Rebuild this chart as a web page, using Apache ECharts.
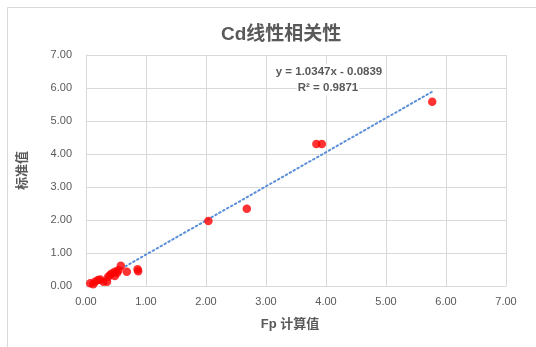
<!DOCTYPE html>
<html>
<head>
<meta charset="utf-8">
<script src="https://cdn.jsdelivr.net/npm/echarts@6/dist/echarts.min.js"></script>
<style>html,body{margin:0;padding:0;background:#fff;}#c{width:536px;height:347px;}</style>
</head>
<body>
<div id="c"></div>
<script>
// Data
const fpValues = [0.07, 0.12, 0.15, 0.20, 0.24, 0.29, 0.35, 0.37, 0.40, 0.43, 0.48, 0.48, 0.52, 0.54, 0.58, 0.68, 0.86, 0.87, 2.04, 2.68, 3.84, 3.93, 5.77];
const stdValues = [0.08, 0.05, 0.13, 0.18, 0.20, 0.13, 0.13, 0.28, 0.33, 0.38, 0.43, 0.30, 0.40, 0.48, 0.61, 0.43, 0.51, 0.45, 1.97, 2.34, 4.30, 4.30, 5.58];
const tickValues = [0, 1, 2, 3, 4, 5, 6, 7];
const slope = 1.0347, intercept = -0.0839;
const eqText = 'y = 1.0347x - 0.0839';
const r2Text = 'R² = 0.9871';

const points = fpValues.map((x, i) => [x, stdValues[i]]);
const xMin = Math.min(...fpValues), xMax = Math.max(...fpValues);
const trend = [[xMin, slope * xMin + intercept], [xMax, slope * xMax + intercept]];

const chart = echarts.init(document.getElementById('c'));
const txt = '#595959';
const font = '"Liberation Sans","Noto Sans CJK SC",sans-serif';
const axisCommon = {
  min: tickValues[0], max: tickValues[tickValues.length - 1], interval: 1,
  axisLine: { show: true, lineStyle: { color: '#d9d9d9' } },
  axisTick: { show: false },
  splitLine: { show: true, lineStyle: { color: '#d9d9d9', width: 1 } },
  axisLabel: { color: txt, fontSize: 11, fontFamily: font, formatter: v => v.toFixed(2) },
};
chart.setOption({
  backgroundColor: '#fff',
  animation: false,
  title: {
    text: 'Cd线性相关性', left: 216, top: 20,
    textStyle: { color: txt, fontSize: 19, fontWeight: 'bold', fontFamily: font }
  },
  grid: { left: 86, right: 30, top: 55, bottom: 61 },
  xAxis: Object.assign({}, axisCommon, {
    type: 'value',
    name: 'Fp 计算值', nameLocation: 'middle', nameGap: 32,
    nameTextStyle: { color: txt, fontSize: 13, fontWeight: 'bold', fontFamily: font, padding: [0, 12, 0, 0] },
    axisLabel: Object.assign({}, axisCommon.axisLabel, { margin: 10 })
  }),
  yAxis: Object.assign({}, axisCommon, {
    type: 'value',
    name: '标准值', nameLocation: 'middle', nameGap: 57,
    nameTextStyle: { color: txt, fontSize: 13, fontWeight: 'bold', fontFamily: font },
    axisLabel: Object.assign({}, axisCommon.axisLabel, { margin: 14 })
  }),
  graphic: [
    { type: 'rect', shape: { x: 7.5, y: 7.5, width: 700, height: 500 }, style: { fill: 'none', stroke: '#d9d9d9', lineWidth: 1 }, silent: true },
    { type: 'text', x: 329, y: 64, z: 11, style: { text: eqText, fill: txt, font: 'bold 11.5px ' + font, textAlign: 'center', backgroundColor: '#fff', padding: [2, 1, 2, 1] } },
    { type: 'text', x: 328, y: 80, z: 11, style: { text: r2Text, fill: txt, font: 'bold 11.5px ' + font, textAlign: 'center', backgroundColor: '#fff', padding: [2, 1, 2, 1] } }
  ],
  series: [
    {
      type: 'line', data: trend, symbol: 'none', silent: true,
      lineStyle: { color: '#5B8FD9', width: 2, type: [1.5, 3], cap: 'round' }, z: 1
    },
    {
      type: 'scatter', data: points, symbol: 'circle', symbolSize: 8.5,
      itemStyle: { color: '#ff0000' }, z: 3
    }
  ]
});
</script>
</body>
</html>
